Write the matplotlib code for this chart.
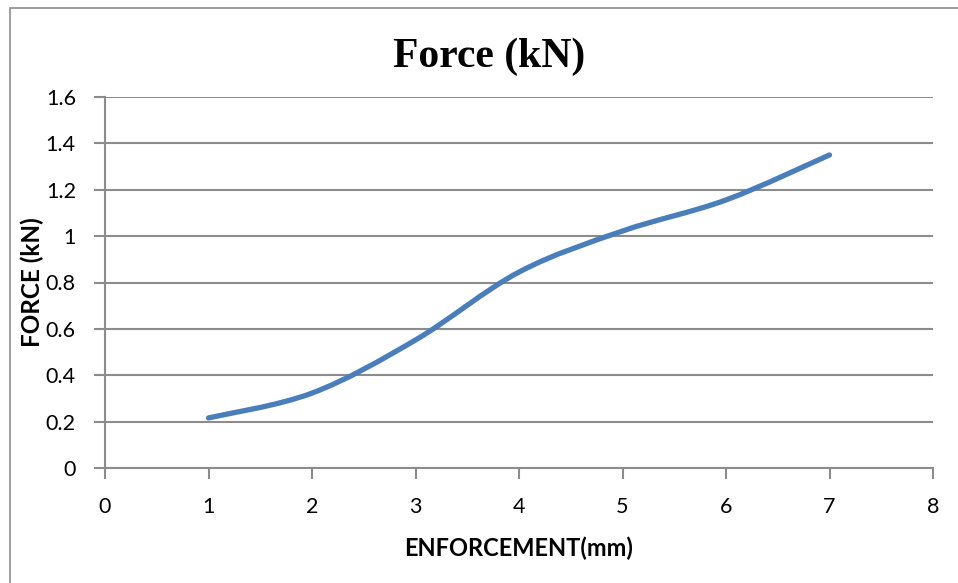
import numpy as np
import matplotlib.pyplot as plt
from matplotlib.path import Path
from matplotlib.patches import PathPatch, Rectangle

# data
enforcement_mm = [1, 2, 3, 4, 5, 6, 7]
force_kn = [0.216, 0.323, 0.552, 0.845, 1.022, 1.156, 1.35]

x_ticks = [0, 1, 2, 3, 4, 5, 6, 7, 8]
y_ticks = [0, 0.2, 0.4, 0.6, 0.8, 1, 1.2, 1.4, 1.6]
y_tick_labels = ['0', '0.2', '0.4', '0.6', '0.8', '1', '1.2', '1.4', '1.6']

LINE_COLOR = '#4a7ebb'
GRID_COLOR = '#8c8c8c'
SANS = ['Lato', 'DejaVu Sans']
W, H = 958, 583


def smooth_path(xs, ys, tension=1 / 6):
    """Excel-like smoothed line: cubic Bezier segments through each point."""
    xs = np.asarray(xs, float)
    ys = np.asarray(ys, float)
    n = len(xs)
    verts = [(xs[0], ys[0])]
    codes = [Path.MOVETO]
    for i in range(n - 1):
        p0 = i - 1 if i > 0 else i
        p3 = i + 2 if i + 2 < n else i + 1
        c1 = (xs[i] + (xs[i + 1] - xs[p0]) * tension,
              ys[i] + (ys[i + 1] - ys[p0]) * tension)
        c2 = (xs[i + 1] - (xs[p3] - xs[i]) * tension,
              ys[i + 1] - (ys[p3] - ys[i]) * tension)
        verts += [c1, c2, (xs[i + 1], ys[i + 1])]
        codes += [Path.CURVE4] * 3
    return Path(verts, codes)


fig = plt.figure(figsize=(W / 100, H / 100), dpi=100)

# outer chart border (cut off on the right and bottom, as in the reference)
fig.patches.append(Rectangle((10 / W, -0.05), 1.2, 1 - 8 / H + 0.05,
                             transform=fig.transFigure, fill=False,
                             edgecolor='#8c8c8c', linewidth=1.2))

ax = fig.add_axes([105 / W, 1 - 468 / H, 828 / W, 371 / H])

patch = PathPatch(smooth_path(enforcement_mm, force_kn), facecolor='none',
                  edgecolor=LINE_COLOR, linewidth=3.8, capstyle='round',
                  joinstyle='round', zorder=3)
ax.add_patch(patch)

ax.set_xlim(0, 8)
ax.set_ylim(0, 1.6)
ax.set_xticks(x_ticks)
ax.set_yticks(y_ticks)
ax.set_yticklabels(y_tick_labels)

ax.grid(axis='y', color=GRID_COLOR, linewidth=1.5)
ax.set_axisbelow(True)
for side in ['top', 'right']:
    ax.spines[side].set_visible(False)
for side in ['left', 'bottom']:
    ax.spines[side].set_color(GRID_COLOR)
    ax.spines[side].set_linewidth(1.5)

ax.tick_params(axis='both', direction='out', length=8, width=1.5,
               color=GRID_COLOR, labelsize=15.5, labelcolor='black')
ax.tick_params(axis='x', pad=13)
ax.tick_params(axis='y', pad=13)
for lab in ax.get_xticklabels() + ax.get_yticklabels():
    lab.set_family(SANS)

# title and axis labels placed where the reference has them
fig.text(489.5 / W, 1 - 67 / H, 'Force (kN)', fontsize=30, fontweight='bold',
         family=['Liberation Serif', 'DejaVu Serif'], ha='center', va='baseline')
fig.text(518.5 / W, 1 - 556 / H, 'ENFORCEMENT(mm)', fontsize=17,
         fontweight='bold', family=SANS, ha='center', va='baseline')
fig.text(32 / W, 1 - 282 / H, 'FORCE (kN)', fontsize=17.5, fontweight='bold',
         family=SANS, ha='center', va='center', rotation=90)

fig.savefig('out.png', dpi=100)
